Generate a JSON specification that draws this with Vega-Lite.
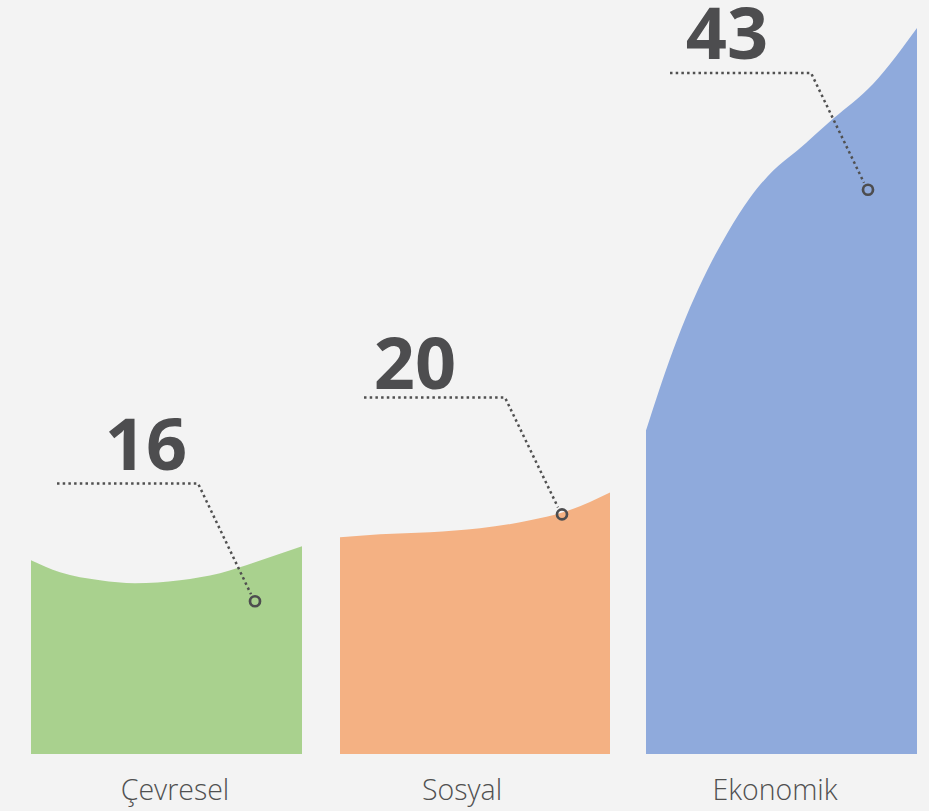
{
  "$schema": "https://vega.github.io/schema/vega-lite/v6.json",
  "width": 929,
  "height": 811,
  "autosize": {"type": "fit", "contains": "padding"},
  "padding": 0,
  "background": "#f3f3f3",
  "config": {"view": {"stroke": null}},
  "datasets": {
    "areas": [
      {"cat": "Çevresel", "x": 31, "v": 194},
      {"cat": "Çevresel", "x": 60, "v": 182},
      {"cat": "Çevresel", "x": 100, "v": 174},
      {"cat": "Çevresel", "x": 135, "v": 171},
      {"cat": "Çevresel", "x": 180, "v": 174},
      {"cat": "Çevresel", "x": 220, "v": 181},
      {"cat": "Çevresel", "x": 255, "v": 192},
      {"cat": "Çevresel", "x": 302, "v": 208},
      {"cat": "Sosyal", "x": 340, "v": 217},
      {"cat": "Sosyal", "x": 380, "v": 220},
      {"cat": "Sosyal", "x": 430, "v": 222},
      {"cat": "Sosyal", "x": 480, "v": 226},
      {"cat": "Sosyal", "x": 530, "v": 234},
      {"cat": "Sosyal", "x": 563, "v": 242},
      {"cat": "Sosyal", "x": 610, "v": 262},
      {"cat": "Ekonomik", "x": 646, "v": 324},
      {"cat": "Ekonomik", "x": 673, "v": 404},
      {"cat": "Ekonomik", "x": 690, "v": 447},
      {"cat": "Ekonomik", "x": 707, "v": 484},
      {"cat": "Ekonomik", "x": 727, "v": 521},
      {"cat": "Ekonomik", "x": 750, "v": 557},
      {"cat": "Ekonomik", "x": 773, "v": 584},
      {"cat": "Ekonomik", "x": 797, "v": 604},
      {"cat": "Ekonomik", "x": 833, "v": 636},
      {"cat": "Ekonomik", "x": 873, "v": 671},
      {"cat": "Ekonomik", "x": 917, "v": 727}
    ],
    "leaders": [
      {"cat": "Çevresel", "o": 1, "x": 57, "v": 271},
      {"cat": "Çevresel", "o": 2, "x": 198, "v": 271},
      {"cat": "Çevresel", "o": 3, "x": 251, "v": 160},
      {"cat": "Sosyal", "o": 1, "x": 364, "v": 357},
      {"cat": "Sosyal", "o": 2, "x": 505, "v": 357},
      {"cat": "Sosyal", "o": 3, "x": 558, "v": 247},
      {"cat": "Ekonomik", "o": 1, "x": 670, "v": 682},
      {"cat": "Ekonomik", "o": 2, "x": 811, "v": 682},
      {"cat": "Ekonomik", "o": 3, "x": 864, "v": 572}
    ],
    "values": [
      {"cat": "Çevresel", "value": 16, "lx": 146, "lv": 284, "px": 255, "pv": 153, "cx": 175},
      {"cat": "Sosyal", "value": 20, "lx": 415, "lv": 366, "px": 562, "pv": 240, "cx": 462},
      {"cat": "Ekonomik", "value": 43, "lx": 727, "lv": 696, "px": 868, "pv": 565, "cx": 775}
    ]
  },
  "layer": [
    {
      "data": {"name": "areas"},
      "mark": {"type": "area", "interpolate": "monotone"},
      "encoding": {
        "x": {"field": "x", "type": "quantitative", "scale": {"domain": [0, 929], "nice": false, "zero": false}, "axis": null},
        "y": {"field": "v", "type": "quantitative", "stack": null, "scale": {"domain": [-57, 754], "nice": false}, "axis": null},
        "detail": {"field": "cat"},
        "color": {"field": "cat", "type": "nominal", "scale": {"domain": ["Çevresel", "Sosyal", "Ekonomik"], "range": ["#a9d18e", "#f4b183", "#8faadc"]}, "legend": null}
      }
    },
    {
      "data": {"name": "leaders"},
      "mark": {"type": "line", "stroke": "#505050", "strokeWidth": 2.5, "strokeDash": [2.5, 3.2]},
      "encoding": {
        "x": {"field": "x", "type": "quantitative"},
        "y": {"field": "v", "type": "quantitative"},
        "detail": {"field": "cat"},
        "order": {"field": "o", "type": "quantitative"}
      }
    },
    {
      "data": {"name": "values"},
      "mark": {"type": "point", "shape": "circle", "size": 100, "filled": false, "stroke": "#4d4d4f", "strokeWidth": 2.7, "opacity": 1},
      "encoding": {
        "x": {"field": "px", "type": "quantitative"},
        "y": {"field": "pv", "type": "quantitative"}
      }
    },
    {
      "data": {"name": "values"},
      "mark": {"type": "text", "font": "Open Sans", "fontWeight": "bold", "fontSize": 72, "fill": "#4d4d4f", "align": "center", "baseline": "alphabetic"},
      "encoding": {
        "x": {"field": "lx", "type": "quantitative"},
        "y": {"field": "lv", "type": "quantitative"},
        "text": {"field": "value", "type": "quantitative"}
      }
    },
    {
      "data": {"name": "values"},
      "mark": {"type": "text", "font": "Open Sans", "fontWeight": 300, "fontSize": 28.5, "fill": "#505050", "align": "center", "baseline": "alphabetic"},
      "encoding": {
        "x": {"field": "cx", "type": "quantitative"},
        "y": {"datum": -46},
        "text": {"field": "cat", "type": "nominal"}
      }
    }
  ]
}
